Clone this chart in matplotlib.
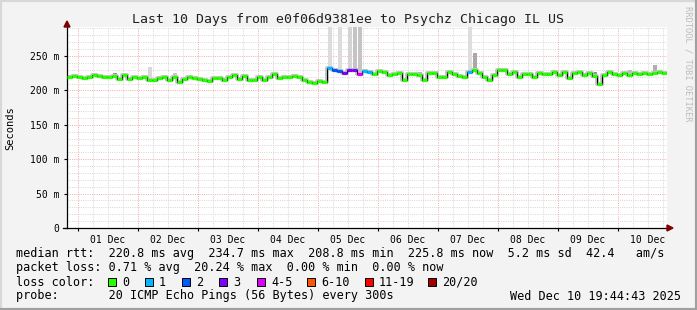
import matplotlib
matplotlib.use("Agg")
import matplotlib.pyplot as plt
import matplotlib.dates as mdates
from matplotlib.patches import Rectangle, Polygon
from matplotlib.lines import Line2D
from datetime import datetime, timedelta

# ---------------- data ----------------
title = "Last 10 Days from e0f06d9381ee to Psychz Chicago IL US"
start = datetime(2025, 11, 30, 19, 44, 43)
end = datetime(2025, 12, 10, 19, 44, 43)
step_hours = 2

median_ms = [
    219.5, 220.5, 219, 217.5, 219, 222, 221, 220, 220, 221,
    216, 222, 216, 220, 217.5, 220, 214.5, 215, 218, 219,
    215, 219, 212, 217, 220, 217.5, 216, 214.5, 213, 217.5,
    218, 215, 219, 222, 216, 221, 215, 214.5, 219, 215.5,
    219.5, 224, 218, 219.5, 219, 220.5, 220, 215, 211.5, 211,
    213, 211.5, 233, 229, 228, 226, 229, 230, 224, 228,
    227, 224, 228, 227, 222, 224, 226, 215, 224, 224,
    222, 215, 225, 226, 219, 220, 227, 224, 221, 219,
    227, 229.5, 226, 220, 215, 222, 229, 229, 224, 227,
    220, 224, 224, 219, 226, 224, 224, 227, 222, 227,
    218, 226, 227, 222, 225, 221, 210, 222, 227, 224,
    222, 226, 222, 226, 224, 225, 224, 226, 227, 225.8,
]
loss = [0] * 52 + [1, 2, 2, 3, 3, 3, 4, 1, 1, 0] + [0] * 18 + [1] + [0] * 39

spike_idx = [9, 16, 21, 52, 54, 56, 57, 58, 70, 80, 81, 86, 97, 105, 112, 117]
spike_top = [225, 234, 226, 300, 300, 300, 300, 300, 227, 300, 255, 232, 230, 227, 230, 237]
spike_shade = ["#909090", "#d8d8d8", "#c8c8c8", "#dcdcdc", "#dcdcdc", "#d4d4d4",
               "#c4c4c4", "#c4c4c4", "#b0b0b0", "#dedede", "#a8a8a8", "#909090",
               "#909090", "#909090", "#b8b8b8", "#b0b0b0"]

y_ticks = [0, 50, 100, 150, 200, 250]
loss_labels = ["0", "1", "2", "3", "4-5", "6-10", "11-19", "20/20"]
loss_colors = ["#26ff00", "#00b8ff", "#0059ff", "#7e00ff", "#dd00ff",
               "#ff5500", "#ff0000", "#a10000"]

stats_line1 = "median rtt:  220.8 ms avg  234.7 ms max  208.8 ms min  225.8 ms now  5.2 ms sd  42.4   am/s"
stats_line2 = "packet loss: 0.71 % avg  20.24 % max  0.00 % min  0.00 % now"
probe_line = "probe:       20 ICMP Echo Pings (56 Bytes) every 300s"
stamp = "Wed Dec 10 19:44:43 2025"


def loss_bucket(n):
    if n <= 3:
        return n
    if n <= 5:
        return 4
    if n <= 10:
        return 5
    if n <= 19:
        return 6
    return 7


# ---------------- figure ----------------
W, H = 697, 310
fig = plt.figure(figsize=(W / 100, H / 100), dpi=100)
fig.patch.set_facecolor("#f3f3f3")
MONO = "DejaVu Sans Mono"


def px(x, y):
    return (x / W, 1 - y / H)


x0, x1, y0, y1 = 67, 667, 27, 228
ax = fig.add_axes([x0 / W, 1 - y1 / H, (x1 - x0) / W, (y1 - y0) / H])
ax.set_facecolor("white")
ymax = (y1 - y0) / 0.688
ax.set_xlim(mdates.date2num(start), mdates.date2num(end))
ax.set_ylim(0, ymax)

# grid
red = "#f7a8a8"
gray = "#d6d6d6"
ls = (0, (1.0, 1.3))
t = datetime(2025, 12, 1, 0, 0)
while t < end:
    c = red if t.hour == 0 else gray
    ax.axvline(mdates.date2num(t), color=c, lw=0.7, ls=ls, zorder=0)
    t += timedelta(hours=6)
for v in range(10, int(ymax) + 1, 10):
    c = red if v % 50 == 0 else gray
    ax.axhline(v, color=c, lw=0.7, ls=ls, zorder=0)

# data
times = [start + timedelta(hours=step_hours * i) for i in range(len(median_ms) + 1)]
tn = mdates.date2num(times)
dt = tn[1] - tn[0]

for i, top, shade in zip(spike_idx, spike_top, spike_shade):
    ax.bar(tn[i] + dt * 0.1, top - median_ms[i], bottom=median_ms[i], width=dt * 0.85,
           align="edge", color=shade, lw=0, zorder=1)

ax.step(tn, median_ms + [median_ms[-1]], where="post", color="#c4c4c4", lw=2.8, zorder=2)
ax.step(tn, median_ms + [median_ms[-1]], where="post", color="black", lw=0.8, zorder=3)
ax.hlines(median_ms, tn[:-1], tn[1:], colors=[loss_colors[loss_bucket(n)] for n in loss],
          lw=2.3, zorder=4)

# axes styling
for s in ["top", "right"]:
    ax.spines[s].set_visible(False)
for s in ["left", "bottom"]:
    ax.spines[s].set_color("black")
    ax.spines[s].set_linewidth(0.9)
ax.xaxis.set_major_locator(mdates.HourLocator(byhour=[12]))
ax.xaxis.set_major_formatter(mdates.DateFormatter("%d %b"))
ax.xaxis.set_minor_locator(mdates.DayLocator())
ax.tick_params(axis="x", which="major", length=0, pad=5, labelsize=7)
ax.tick_params(axis="x", which="minor", length=2.5, width=0.8, color="black")
ax.set_yticks(y_ticks)
ax.set_yticklabels(["0" if v == 0 else f"{v} m" for v in y_ticks])
ax.tick_params(axis="y", length=2.5, width=0.8, pad=3, labelsize=7)
for lab in ax.get_xticklabels() + ax.get_yticklabels():
    lab.set_fontfamily(MONO)

# arrows
arrow_c = "#7f0000"
fig.patches.append(Polygon([px(x1, y1 - 3), px(x1, y1 + 3), px(x1 + 6, y1)], closed=True,
                           transform=fig.transFigure, color=arrow_c))
fig.lines.append(Line2D([px(x0 - 4, 0)[0], px(x0, 0)[0]], [1 - y1 / H, 1 - y1 / H],
                        transform=fig.transFigure, color="black", lw=0.9))
fig.patches.append(Polygon([px(x0 - 3, y0), px(x0 + 3, y0), px(x0, y0 - 6)], closed=True,
                           transform=fig.transFigure, color=arrow_c))

# texts
fig.text(*px(348, 19), title, family=MONO, fontsize=9.5, ha="center", va="center", color="#202020")
fig.text(*px(10, 128), "Seconds", family=MONO, fontsize=7.5, rotation=90, ha="center", va="center")
fig.text(*px(688, 64), "RRDTOOL / TOBI OETIKER", family=MONO, fontsize=6.3, rotation=270,
         ha="center", va="center", color="#bcbcbc")

fs = 8.5
fig.text(*px(16, 254), stats_line1, family=MONO, fontsize=fs, va="center")
fig.text(*px(16, 268), stats_line2, family=MONO, fontsize=fs, va="center")
fig.text(*px(16, 282), "loss color:", family=MONO, fontsize=fs, va="center")
fig.text(*px(16, 296), probe_line, family=MONO, fontsize=fs, va="center")
fig.text(*px(681, 296), stamp, family=MONO, fontsize=fs, va="center", ha="right")

box_x = [108, 145, 182, 219, 257, 307, 365, 428]
for bx, lab, col in zip(box_x, loss_labels, loss_colors):
    fig.patches.append(Rectangle(px(bx, 286), 8 / W, 8 / H, transform=fig.transFigure,
                                 facecolor=col, edgecolor="black", lw=0.7))
    fig.text(*px(bx + 14, 282), lab, family=MONO, fontsize=fs, va="center")

# frame
fig.lines.append(Line2D([0, 0, 1], [0, 1, 1], transform=fig.transFigure, color="#d8d8d8", lw=3))
fig.lines.append(Line2D([0, 1, 1], [0, 0, 1], transform=fig.transFigure, color="#a0a0a0", lw=3))

fig.savefig("out.png", dpi=100, facecolor=fig.get_facecolor())
